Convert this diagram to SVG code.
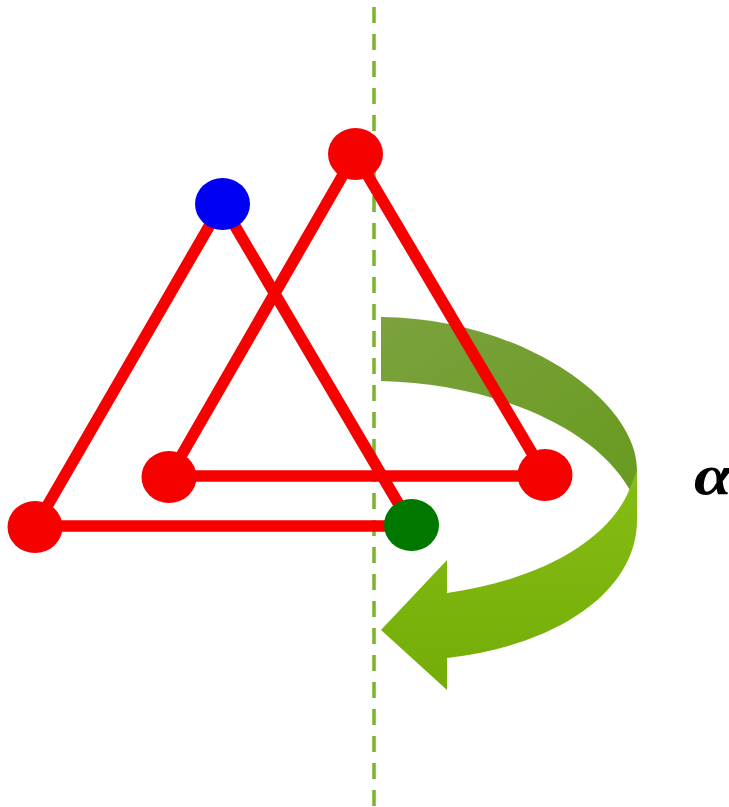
<svg xmlns="http://www.w3.org/2000/svg" width="729" height="807" viewBox="0 0 729 807">
  <defs>
    <linearGradient id="gTop" x1="0" y1="0" x2="1" y2="1">
      <stop offset="0" stop-color="#7ba23e"/>
      <stop offset="1" stop-color="#689a1e"/>
    </linearGradient>
    <linearGradient id="gBot" x1="0" y1="0" x2="0" y2="1">
      <stop offset="0" stop-color="#86bd14"/>
      <stop offset="1" stop-color="#74ad08"/>
    </linearGradient>
    <style>
      .edge { stroke: #f70000; stroke-width: 11.5; stroke-linecap: round; fill: none; }
      .red { fill: #f70000; }
      .axis { stroke: #7ab32e; stroke-width: 3.5; stroke-dasharray: 16 11; stroke-dashoffset: 20; fill: none; }
      .lbl { font-family: "Liberation Serif", serif; font-style: italic; font-weight: bold; font-size: 57px; fill: #000; }
    </style>
  </defs>
  <rect width="729" height="807" fill="#ffffff"/>
  <line class="axis" x1="374" y1="0" x2="374" y2="807"/>
  <g id="rotation-arrow">
    <path fill="url(#gTop)" d="M381,317 C520,318 637,400 637,470 L637,500 L630,490 C590,420 480,383 381,381 Z"/>
    <path fill="url(#gBot)" d="M630,488 L637,470 L637,520 C637,590 560,645 447,658 L447,690 L381,630 L447,560 L447,593 C540,580 610,540 630,488 Z"/>
  </g>
  <g id="connectors">
    <line class="edge" x1="222" y1="204" x2="35" y2="527"/>
    <line class="edge" x1="222" y1="204" x2="411" y2="525"/>
    <line class="edge" x1="35" y1="526" x2="411" y2="526"/>
    <line class="edge" x1="355" y1="154" x2="169" y2="477"/>
    <line class="edge" x1="355" y1="154" x2="545" y2="475"/>
    <line class="edge" x1="169" y1="476" x2="545" y2="476"/>
  </g>
  <g id="node-blue"><ellipse cx="222.5" cy="204" rx="27.5" ry="26" fill="#0000f5"/></g>
  <g id="node-top"><ellipse class="red" cx="355.5" cy="154" rx="27.5" ry="26"/></g>
  <g id="node-mid"><ellipse class="red" cx="169" cy="477" rx="27.5" ry="26"/></g>
  <g id="node-left"><ellipse class="red" cx="35" cy="527" rx="27.5" ry="26"/></g>
  <g id="node-right"><ellipse class="red" cx="545" cy="475" rx="27.5" ry="26"/></g>
  <g id="node-green"><ellipse cx="411.5" cy="525" rx="27.5" ry="26" fill="#007800"/></g>
  <text class="lbl" transform="translate(694,494) scale(1.2,1)">α</text>
</svg>
